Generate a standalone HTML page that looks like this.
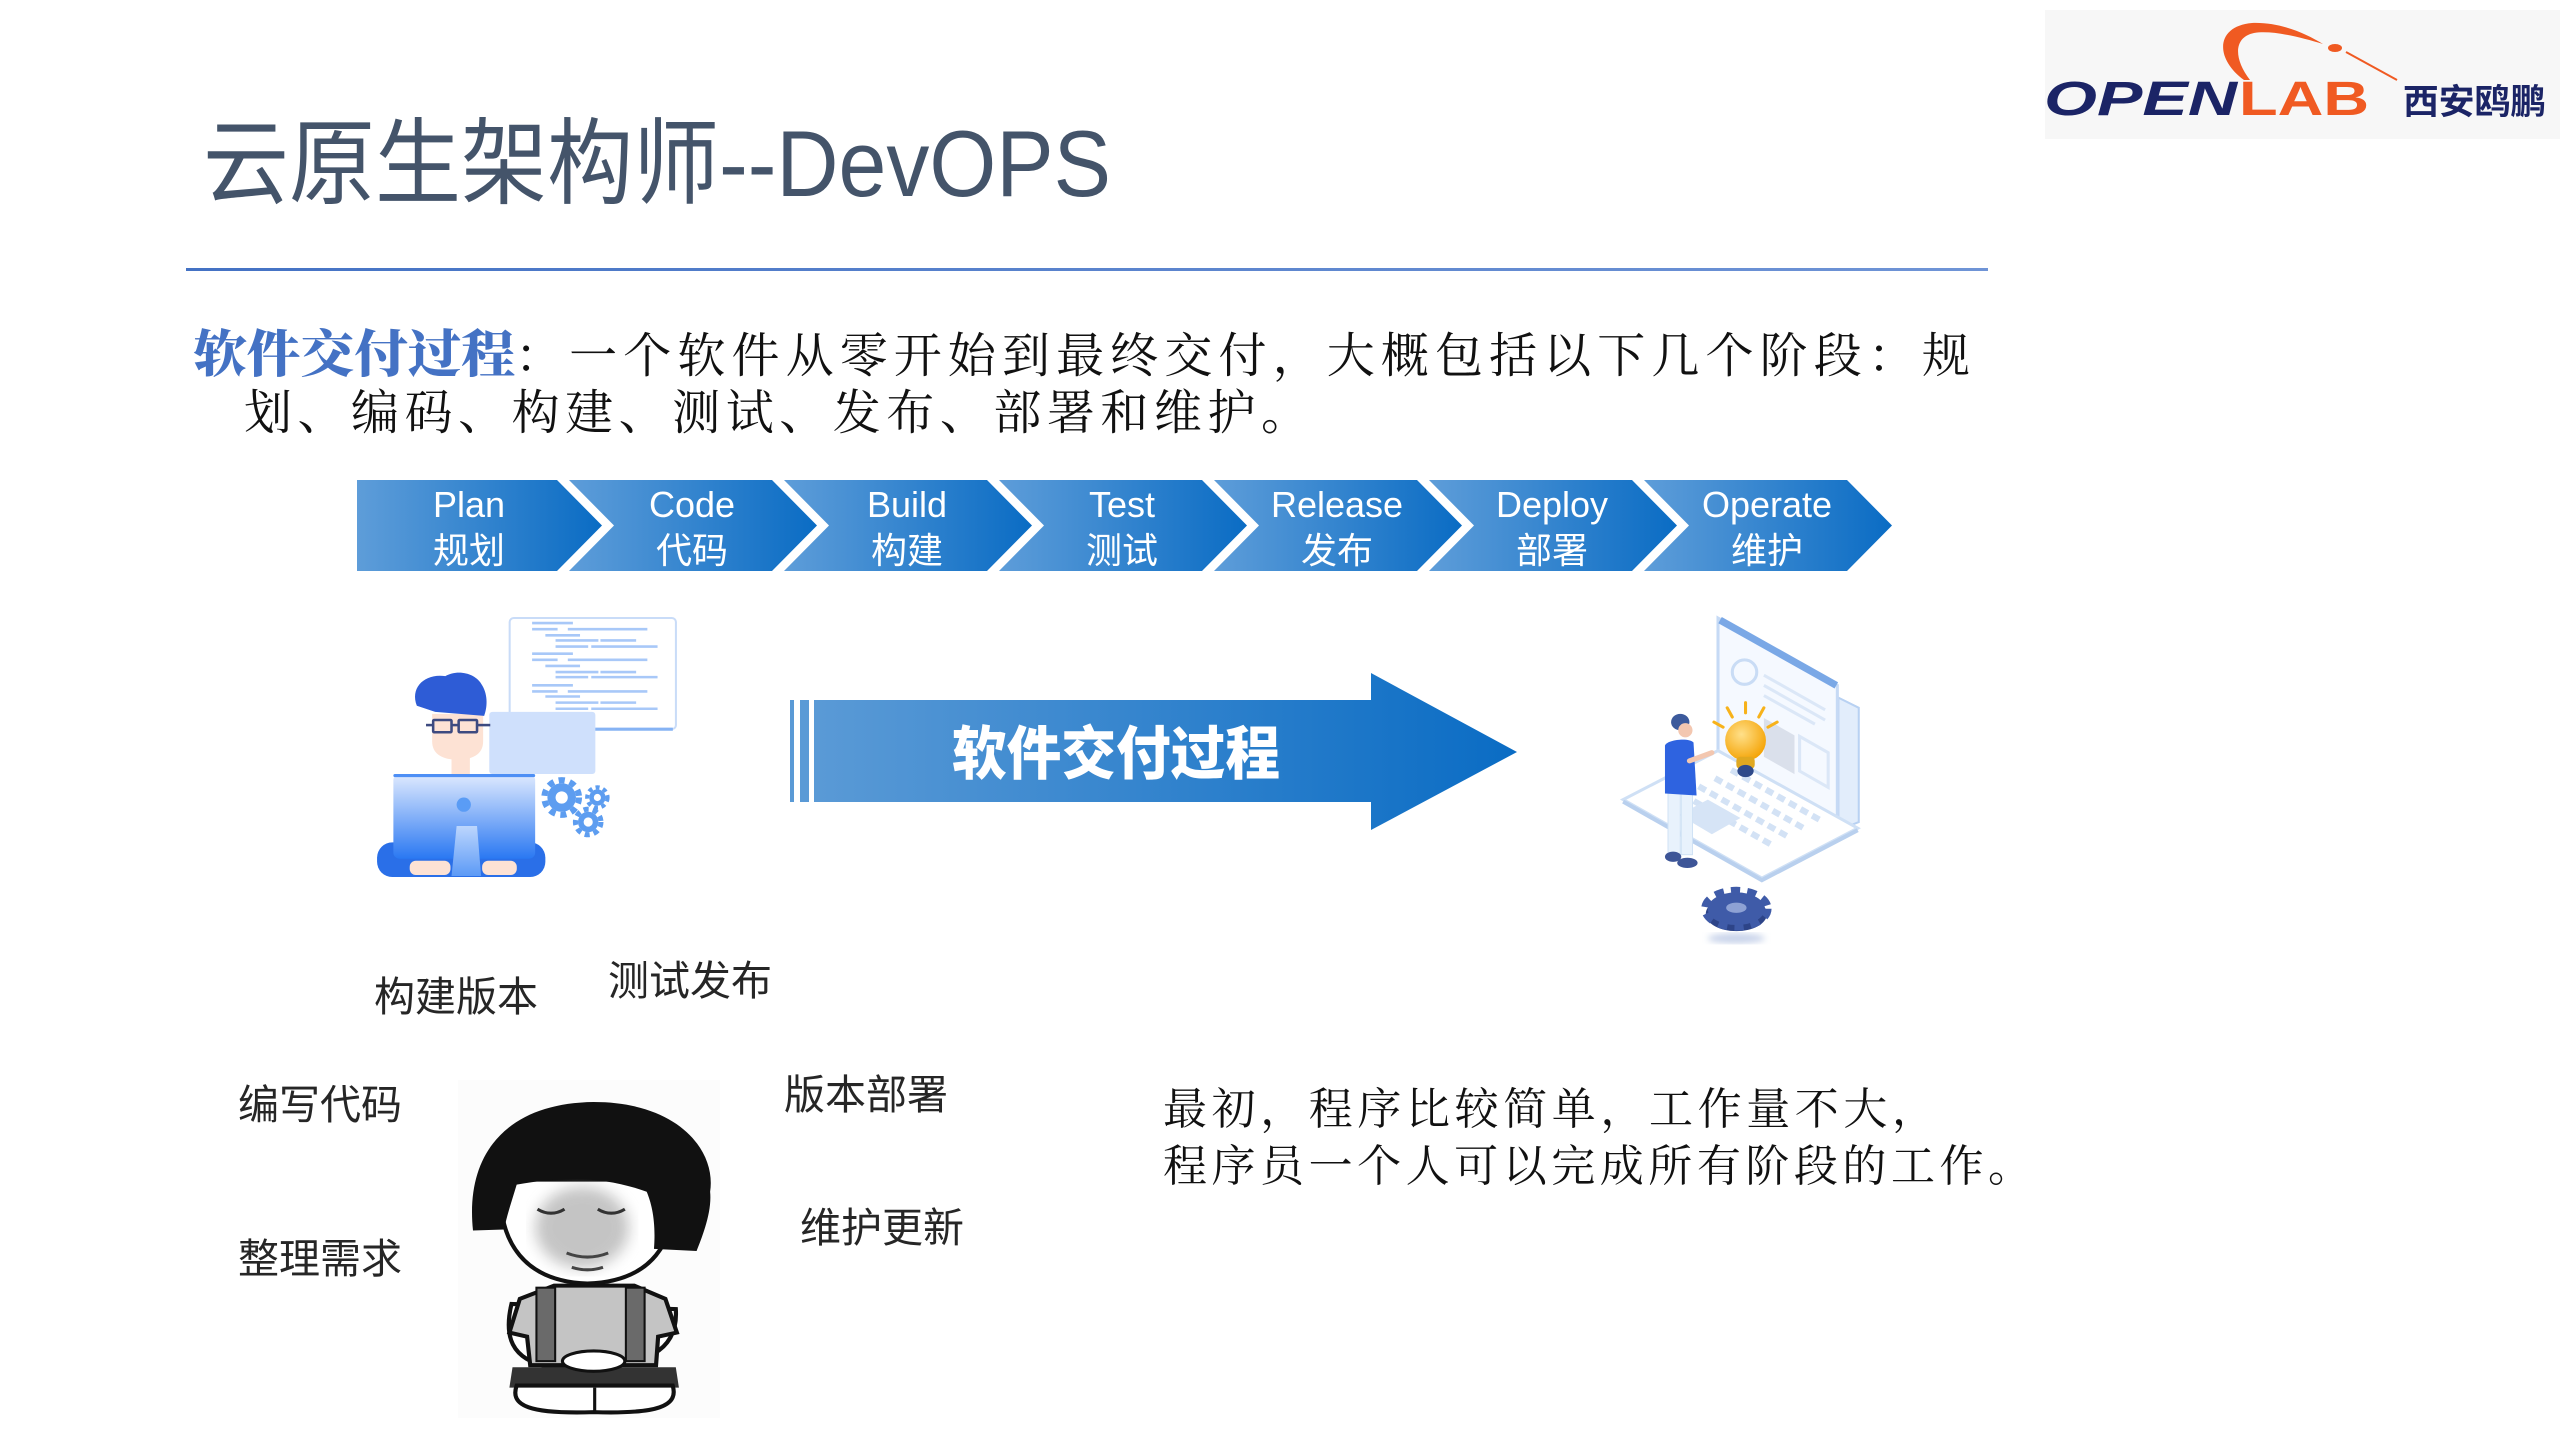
<!DOCTYPE html>
<html><head><meta charset="utf-8"><style>
html,body{margin:0;padding:0;background:#fff;}
body{width:2560px;height:1440px;overflow:hidden;}
svg{display:block;}
.sans{font-family:"Liberation Sans","Noto Sans CJK SC",sans-serif;}
.serif{font-family:"Liberation Serif","Noto Serif CJK SC",serif;}
</style></head><body>
<svg width="2560" height="1440" viewBox="0 0 2560 1440" xmlns="http://www.w3.org/2000/svg">
<defs>
 <linearGradient id="chev" x1="0" y1="0" x2="1" y2="0"><stop offset="0" stop-color="#5e9dd9"/><stop offset="1" stop-color="#0a6cc4"/></linearGradient>
 <linearGradient id="arr" x1="0" y1="0" x2="1" y2="0"><stop offset="0" stop-color="#5a9ad6"/><stop offset="1" stop-color="#0a6cc4"/></linearGradient>
 <linearGradient id="mon" x1="0" y1="0" x2="0" y2="1"><stop offset="0" stop-color="#dfeafe"/><stop offset="1" stop-color="#2a78f2"/></linearGradient>
 <linearGradient id="stand" x1="0" y1="0" x2="0" y2="1"><stop offset="0" stop-color="#bcd6fd"/><stop offset="1" stop-color="#5c9af6"/></linearGradient>
 <radialGradient id="bulb" cx="0.4" cy="0.35" r="0.7"><stop offset="0" stop-color="#ffe08a"/><stop offset="1" stop-color="#f4a100"/></radialGradient>
 <linearGradient id="hl" x1="0" y1="0" x2="1" y2="0"><stop offset="0" stop-color="#4472c4"/><stop offset="1" stop-color="#6f94d6"/></linearGradient>
 <filter id="blur"><feGaussianBlur stdDeviation="7"/></filter>
 <filter id="blur2"><feGaussianBlur stdDeviation="3"/></filter>
</defs>

<!-- Logo -->
<rect x="2045" y="10" width="515" height="129" fill="#f7f7f7"/>
<path d="M2244 80 C2214 58 2216 26 2252 23 C2280 22 2305 33 2323 44 C2300 37 2272 30 2254 33 C2234 37 2233 58 2250 80 Z" fill="#f05a22"/>
<ellipse cx="2335" cy="48" rx="7" ry="4" fill="#f05a22"/>
<line x1="2346" y1="52" x2="2397" y2="80" stroke="#f05a22" stroke-width="2"/>
<text x="2044" y="115" class="sans" font-size="48" font-weight="bold" font-style="italic" fill="#1b2466" textLength="193" lengthAdjust="spacingAndGlyphs">OPEN</text>
<text x="2239" y="115" class="sans" font-size="48" font-weight="bold" fill="#f05a22" textLength="130" lengthAdjust="spacingAndGlyphs">LAB</text>
<text x="2403" y="114" class="sans" font-size="35" font-weight="bold" fill="#1b2466" textLength="143" lengthAdjust="spacingAndGlyphs">西安鸥鹏</text>

<!-- Title -->
<text x="203" y="196" class="sans" font-size="94" fill="#44546a" textLength="908" lengthAdjust="spacingAndGlyphs">云原生架构师--DevOPS</text>
<rect x="186" y="268" width="1802" height="3" fill="url(#hl)"/>

<!-- Paragraph -->
<text x="193" y="372" class="serif" font-size="51" font-weight="900" fill="#4472c4" textLength="322" lengthAdjust="spacingAndGlyphs">软件交付过程</text>
<text x="515" y="372" class="serif" font-size="48" fill="#111" textLength="1455" lengthAdjust="spacing">：一个软件从零开始到最终交付，大概包括以下几个阶段：规</text>
<text x="244" y="429" class="serif" font-size="48" fill="#111" textLength="1065" lengthAdjust="spacing">划、编码、构建、测试、发布、部署和维护。</text>

<!-- Chevrons -->
<g fill="url(#chev)" transform="translate(0,3)">
 <polygon points="357,477 557,477 602,522.5 557,568 357,568"/>
 <polygon points="569,477 772,477 817,522.5 772,568 569,568 614,522.5"/>
 <polygon points="784,477 987,477 1032,522.5 987,568 784,568 829,522.5"/>
 <polygon points="999,477 1202,477 1247,522.5 1202,568 999,568 1044,522.5"/>
 <polygon points="1214,477 1417,477 1462,522.5 1417,568 1214,568 1259,522.5"/>
 <polygon points="1429,477 1632,477 1677,522.5 1632,568 1429,568 1474,522.5"/>
 <polygon points="1644,477 1847,477 1892,522.5 1847,568 1644,568 1689,522.5"/>
</g>
<g class="sans" font-size="36" fill="#fff" text-anchor="middle" transform="translate(0,3)">
 <text x="469" y="514">Plan</text><text x="469" y="560">规划</text>
 <text x="692" y="514">Code</text><text x="692" y="560">代码</text>
 <text x="907" y="514">Build</text><text x="907" y="560">构建</text>
 <text x="1122" y="514">Test</text><text x="1122" y="560">测试</text>
 <text x="1337" y="514">Release</text><text x="1337" y="560">发布</text>
 <text x="1552" y="514">Deploy</text><text x="1552" y="560">部署</text>
 <text x="1767" y="514">Operate</text><text x="1767" y="560">维护</text>
</g>

<!-- Big arrow -->
<g transform="translate(10,5)">
<rect x="780" y="695" width="4" height="102" fill="#5a9ad6"/>
<rect x="790" y="695" width="9" height="102" fill="#5a9ad6"/>
<polygon points="804,695 1361,695 1361,668 1507,747 1361,825 1361,797 804,797" fill="url(#arr)"/>
<text x="942" y="769" class="sans" font-size="58" font-weight="900" fill="#fff" textLength="328" lengthAdjust="spacingAndGlyphs">软件交付过程</text>
</g>

<!-- Left illustration -->
<g transform="matrix(1.02 0 0 1.02 -3.4 -8.3)">
 <rect x="503" y="614" width="163" height="109" rx="4" fill="#fff" stroke="#c9dcf8" stroke-width="2"/>
 <line x1="506" y1="723" x2="663" y2="723" stroke="#86b3f4" stroke-width="3"/>
 <g stroke="#a8c8f8" stroke-width="2.5">
  <line x1="525" y1="619" x2="565" y2="619"/>
  <line x1="525" y1="625" x2="550" y2="625"/><line x1="560" y1="625" x2="638" y2="625"/>
  <line x1="538" y1="631" x2="572" y2="631"/>
  <line x1="548" y1="636" x2="590" y2="636"/><line x1="592" y1="636" x2="627" y2="636"/>
  <line x1="548" y1="642" x2="580" y2="642"/><line x1="583" y1="642" x2="648" y2="642"/>
  <line x1="525" y1="649" x2="565" y2="649"/>
  <line x1="525" y1="655" x2="550" y2="655"/><line x1="560" y1="655" x2="638" y2="655"/>
  <line x1="538" y1="661" x2="572" y2="661"/>
  <line x1="548" y1="667" x2="590" y2="667"/><line x1="592" y1="667" x2="627" y2="667"/>
  <line x1="548" y1="672" x2="580" y2="672"/><line x1="583" y1="672" x2="648" y2="672"/>
  <line x1="525" y1="680" x2="565" y2="680"/>
  <line x1="525" y1="686" x2="550" y2="686"/><line x1="560" y1="686" x2="638" y2="686"/>
  <line x1="538" y1="691" x2="572" y2="691"/>
  <line x1="548" y1="697" x2="590" y2="697"/><line x1="592" y1="697" x2="627" y2="697"/>
  <line x1="548" y1="703" x2="580" y2="703"/><line x1="583" y1="703" x2="648" y2="703"/>
 </g>
 <rect x="483" y="706" width="104" height="61" rx="3" fill="#cfe0fc"/>
 <rect x="373" y="834" width="165" height="34" rx="15" fill="#2a6fe8"/>
 <rect x="446" y="745" width="18" height="25" fill="#fde2d4"/>
 <path d="M427 708 L477 708 L477 735 C477 748 466 753 452 753 C438 753 427 748 427 735 Z" fill="#fde2d4"/>
 <path d="M412 700 C405 682 420 668 440 671 C452 664 470 668 476 680 C482 690 481 702 478 710 L430 706 Z" fill="#2e5cd6"/>
 <g fill="none" stroke="#3d4a80" stroke-width="2.5">
  <rect x="428" y="714" width="18" height="12" rx="1"/><rect x="453" y="714" width="18" height="12" rx="1"/>
  <line x1="421" y1="719" x2="428" y2="719"/><line x1="446" y1="719" x2="453" y2="719"/><line x1="471" y1="719" x2="484" y2="719"/>
 </g>
 <rect x="389" y="767" width="139" height="83" rx="6" fill="url(#mon)"/>
 <rect x="389" y="767" width="139" height="3" rx="1.5" fill="#4e8ff5"/>
 <circle cx="458" cy="797" r="7" fill="#5a9cf5"/>
 <polygon points="451,818 471,818 475,867 446,867" fill="url(#stand)"/>
 <rect x="405" y="852" width="40" height="14" rx="6" fill="#fde2d4"/>
 <rect x="476" y="852" width="34" height="14" rx="6" fill="#fde2d4"/>
 <g fill="#5d9df0">
  <circle cx="554" cy="790" r="14"/><circle cx="554" cy="790" r="17" fill="none" stroke="#5d9df0" stroke-width="6" stroke-dasharray="6 5"/>
  <circle cx="589" cy="790" r="8"/><circle cx="589" cy="790" r="10" fill="none" stroke="#5d9df0" stroke-width="4" stroke-dasharray="4 3.5"/>
  <circle cx="580" cy="814" r="10"/><circle cx="580" cy="814" r="12.5" fill="none" stroke="#5d9df0" stroke-width="5" stroke-dasharray="5 4"/>
 </g>
 <circle cx="554" cy="790" r="6" fill="#fff"/><circle cx="589" cy="790" r="3.5" fill="#fff"/><circle cx="580" cy="814" r="4.5" fill="#fff"/>
</g>

<!-- Right illustration -->
<g transform="matrix(1.02 0 0 1.02 -16 -6.2)">
 <ellipse cx="1718" cy="926" rx="28" ry="5" fill="#c8d3ea" filter="url(#blur2)"/>
 <polygon points="1818,690 1838,700 1838,812 1818,820" fill="#e2edfb" stroke="#b8d1f2" stroke-width="2"/>
 <polygon points="1700,612 1817,678 1817,818 1700,752" fill="#f5f9ff" stroke="#c6daf5" stroke-width="3"/>
 <line x1="1702" y1="614" x2="1816" y2="678" stroke="#7aa8e6" stroke-width="7"/>
 <circle cx="1726" cy="665" r="12" fill="none" stroke="#c9dcf5" stroke-width="3"/>
 <g stroke="#dbe7f7" stroke-width="3">
  <line x1="1745" y1="668" x2="1805" y2="702"/><line x1="1745" y1="678" x2="1805" y2="712"/><line x1="1745" y1="688" x2="1795" y2="716"/>
 </g>
 <polygon points="1780,728 1808,744 1808,778 1780,762" fill="none" stroke="#dbe7f7" stroke-width="3"/>
 <polygon points="1745,710 1775,727 1775,765 1745,748" fill="#cfd6e2" opacity="0.7"/>
 <polygon points="1607,790 1700,742 1837,818 1743,867" fill="#fff" stroke="#cfe0f5" stroke-width="3"/>
 <polyline points="1607,792 1743,869 1837,820" fill="none" stroke="#b9d0ee" stroke-width="4"/>
 <g stroke="#d3e2f5" stroke-width="6" stroke-dasharray="8 5">
  <line x1="1665" y1="785" x2="1752" y2="834"/>
  <line x1="1681" y1="777" x2="1768" y2="826"/>
  <line x1="1697" y1="769" x2="1784" y2="818"/>
  <line x1="1713" y1="761" x2="1800" y2="810"/>
 </g>
 <polygon points="1662,805 1690,790 1722,808 1694,824" fill="#d6e4f6"/>
 <g stroke="#f7b21a" stroke-width="3" stroke-linecap="round">
  <line x1="1705" y1="719" x2="1696" y2="714"/><line x1="1714" y1="709" x2="1709" y2="700"/>
  <line x1="1727" y1="705" x2="1727" y2="695"/><line x1="1740" y1="709" x2="1745" y2="700"/><line x1="1749" y1="719" x2="1758" y2="714"/>
 </g>
 <circle cx="1727" cy="732" r="20" fill="url(#bulb)"/>
 <rect x="1718" y="748" width="18" height="12" rx="4" fill="#e0a820"/>
 <ellipse cx="1727" cy="762" rx="8" ry="6" fill="#2f4a8a"/>
 <rect x="1651" y="782" width="12" height="62" fill="#e8f2fc" stroke="#d0e2f5"/>
 <rect x="1664" y="782" width="11" height="62" fill="#e8f2fc" stroke="#d0e2f5"/>
 <ellipse cx="1656" cy="846" rx="8" ry="5" fill="#3d5597"/>
 <ellipse cx="1670" cy="852" rx="10" ry="5" fill="#3d5597"/>
 <path d="M1648 737 C1650 731 1672 729 1676 734 L1679 786 L1648 784 Z" fill="#2e63e0"/>
 <line x1="1672" y1="752" x2="1694" y2="744" stroke="#f3c7b0" stroke-width="5" stroke-linecap="round"/>
 <ellipse cx="1663" cy="714" rx="9" ry="8" fill="#3c5a9c"/>
 <circle cx="1668" cy="722" r="7" fill="#f3c7b0"/>
 <ellipse cx="1718" cy="902" rx="30" ry="17" fill="#2d4488"/>
 <ellipse cx="1718" cy="897" rx="28" ry="16" fill="#3f5ba8"/>
 <ellipse cx="1718" cy="897" rx="31" ry="18" fill="none" stroke="#3f5ba8" stroke-width="7" stroke-dasharray="9 7"/>
 <ellipse cx="1718" cy="896" rx="10" ry="5" fill="#8ea2d4"/>
</g>

<!-- Labels -->
<g class="sans" font-size="41" fill="#262626" text-anchor="middle">
 <text x="456" y="1011">构建版本</text>
 <text x="690" y="995">测试发布</text>
 <text x="320" y="1119">编写代码</text>
 <text x="866" y="1109">版本部署</text>
 <text x="882" y="1242">维护更新</text>
 <text x="320" y="1273">整理需求</text>
</g>

<!-- Meme -->
<rect x="458" y="1080" width="262" height="338" fill="#fcfcfc"/>
<g transform="translate(-15.8,-11.8) scale(1.04,1.02)">
 <path d="M507 1290 C500 1320 505 1345 545 1352 L590 1352 C630 1348 668 1340 665 1295 Z" fill="#fff" stroke="#111" stroke-width="4"/>
 <path d="M515 1285 L548 1272 L625 1272 L655 1285 L666 1318 L648 1322 L646 1350 L525 1350 L522 1322 L505 1318 Z" fill="#c4c4c4" stroke="#111" stroke-width="4"/>
 <rect x="531" y="1274" width="18" height="72" fill="#6a6a6a" stroke="#111" stroke-width="2"/>
 <rect x="617" y="1274" width="18" height="72" fill="#6a6a6a" stroke="#111" stroke-width="2"/>
 <path d="M508 1352 L665 1352 L668 1372 L505 1372 Z" fill="#333"/>
 <ellipse cx="586" cy="1346" rx="30" ry="10" fill="#fff" stroke="#111" stroke-width="3"/>
 <path d="M512 1370 C505 1390 525 1398 586 1396 C648 1398 668 1390 662 1370 Z" fill="#fff" stroke="#111" stroke-width="4"/>
 <line x1="587" y1="1372" x2="587" y2="1396" stroke="#111" stroke-width="3"/>
 <path d="M497 1168 L663 1168 C668 1232 640 1268 580 1270 C522 1268 492 1232 497 1168 Z" fill="#fff" stroke="#111" stroke-width="4"/>
 <ellipse cx="575" cy="1215" rx="45" ry="40" fill="#8a8a8a" opacity="0.5" filter="url(#blur)"/>
 <path d="M532 1197 q13 8 26 0 M590 1197 q13 8 26 0" fill="none" stroke="#333" stroke-width="3"/>
 <path d="M560 1240 q20 8 40 0 M565 1254 q15 5 30 0" fill="none" stroke="#444" stroke-width="3"/>
 <path d="M470 1218 C462 1140 505 1093 586 1092 C668 1092 704 1140 698 1180 C700 1200 690 1225 685 1238 L644 1236 C646 1210 642 1192 637 1180 C600 1166 560 1164 512 1173 C507 1190 502 1205 500 1217 Z" fill="#111"/>
</g>

<!-- Right text -->
<text x="1163" y="1124" class="serif" font-size="44" fill="#111" textLength="773" lengthAdjust="spacing">最初，程序比较简单，工作量不大，</text>
<text x="1163" y="1181" class="serif" font-size="44" fill="#111" textLength="869" lengthAdjust="spacing">程序员一个人可以完成所有阶段的工作。</text>
</svg>
</body></html>
